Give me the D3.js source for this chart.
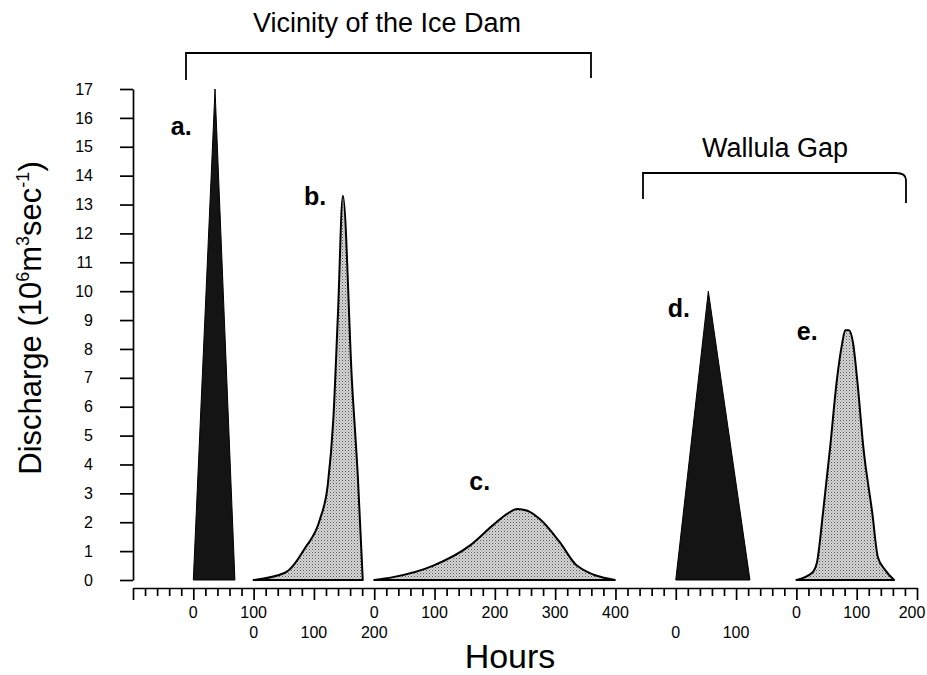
<!DOCTYPE html>
<html>
<head>
<meta charset="utf-8">
<script src="https://cdn.jsdelivr.net/npm/d3@7"></script>
<style>
  body { margin: 0; background: #fff; }
  text { font-family: "Liberation Sans", Arial, Helvetica, sans-serif; fill: #000; }
</style>
</head>
<body>
<div id="vis"></div>
<script>
// hydrographs, hours from start of each panel, discharge in 10^6 m3/s
var hoursA = [0, 36, 69];
var flowA = [0, 17, 0];

var hoursB = [0, 52, 85, 110, 123, 132, 140, 148, 163, 173, 181];
var flowB = [0, 0.25, 1.1, 2.1, 3.3, 5.5, 9.3, 13.3, 6.9, 3.5, 0];

var hoursC = [0, 31, 98, 159, 197, 221, 237, 254, 275, 308, 336, 399];
var flowC = [0, 0.1, 0.5, 1.2, 1.9, 2.3, 2.46, 2.4, 2.1, 1.3, 0.5, 0];

var hoursD = [0, 54, 123];
var flowD = [0, 10, 0];

var hoursE = [0, 26, 34, 44, 56, 67, 76, 81, 87, 94, 101, 111, 126, 135, 147, 162];
var flowE = [0, 0.25, 0.6, 2.3, 4.6, 6.9, 8.2, 8.65, 8.65, 8.2, 6.9, 4.6, 2.3, 0.8, 0.35, 0];

var panelNames = ["a.", "b.", "c.", "d.", "e."];
var panelStart = [0, 100, 300, 800, 1000];      // where each panel's hour 0 sits on the shared axis
var panelTicks = [[0, 100], [0, 100, 200], [0, 100, 200, 300, 400], [0, 100], [0, 100, 200]];
var panelRow = [0, 1, 0, 1, 0];
var panelDark = [true, false, false, true, false];
var labelHour = [-20, 102, 175, 5, 18];          // panel letter position, in panel hours
var labelFlow = [15.4, 13.0, 3.1, 9.1, 8.3];

var yTicks = d3.range(0, 18);
var groupNames = ["Vicinity of the Ice Dam", "Wallula Gap"];

var width = 927, height = 675;
var svg = d3.select("#vis").append("svg")
  .attr("width", width)
  .attr("height", height);

var defs = svg.append("defs");
var stip = defs.append("pattern")
  .attr("id", "stipple")
  .attr("width", 3).attr("height", 3)
  .attr("patternUnits", "userSpaceOnUse");
stip.append("rect").attr("width", 3).attr("height", 3).attr("fill", "#d6d6d6");
stip.append("rect").attr("width", 1).attr("height", 1).attr("fill", "#555");
stip.append("rect").attr("x", 1.5).attr("y", 1.5).attr("width", 1).attr("height", 1).attr("fill", "#888");

var x = d3.scaleLinear().domain([-100, 1200]).range([133, 917]);
var y = d3.scaleLinear().domain([0, 17]).range([580, 89]);

// y axis
var yAxis = svg.append("g")
  .attr("transform", "translate(133,0)")
  .call(d3.axisLeft(y).tickValues(yTicks).tickSize(13).tickSizeOuter(0).tickPadding(27));
yAxis.selectAll("path, line").attr("stroke", "#000").attr("stroke-width", 1.7);
yAxis.selectAll("text")
  .style("font-family", "'Liberation Sans', Arial, sans-serif")
  .style("font-size", "16px")
  .attr("fill", "#000");

// x axis: one shared ruler, panels read their own hour labels
var xAxis = svg.append("g")
  .attr("transform", "translate(0,588)")
  .call(d3.axisBottom(x).tickValues(d3.range(-100, 1201, 20)).tickSize(7).tickSizeOuter(0).tickFormat(""));
xAxis.selectAll("path, line").attr("stroke", "#000").attr("stroke-width", 1.7);
xAxis.selectAll(".tick line")
  .attr("y2", function(d) { return d % 100 === 0 ? 12 : 8; });

var xLabels = [];
panelTicks.forEach(function(ticks, i) {
  ticks.forEach(function(t) {
    xLabels.push({ pos: panelStart[i] + t, text: String(t), row: panelRow[i] });
  });
});
svg.selectAll(".xlab")
  .data(xLabels).enter()
  .append("text")
  .attr("class", "xlab")
  .attr("x", function(d) { return Math.min(x(d.pos), width - 15); })
  .attr("y", function(d) { return d.row === 0 ? 618 : 638; })
  .attr("text-anchor", "middle")
  .style("font-size", "16px")
  .text(function(d) { return d.text; });

// hydrographs
var series = [[hoursA, flowA], [hoursB, flowB], [hoursC, flowC], [hoursD, flowD], [hoursE, flowE]];
series.forEach(function(s, i) {
  var pts = s[0].map(function(h, k) { return [panelStart[i] + h, s[1][k]]; });
  var area = d3.area()
    .x(function(d) { return x(d[0]); })
    .y0(y(0))
    .y1(function(d) { return y(d[1]); })
    .curve(panelDark[i] ? d3.curveLinear : d3.curveMonotoneX);
  svg.append("path")
    .datum(pts)
    .attr("d", area)
    .attr("fill", panelDark[i] ? "#141414" : "url(#stipple)")
    .attr("stroke", "#000")
    .attr("stroke-width", panelDark[i] ? 1 : 2)
    .attr("stroke-linejoin", "round");

  svg.append("text")
    .attr("x", x(panelStart[i] + labelHour[i]))
    .attr("y", y(labelFlow[i]))
    .attr("text-anchor", "middle")
    .style("font-size", "25px")
    .style("font-weight", "bold")
    .text(panelNames[i]);
});

// group brackets
svg.append("path")
  .attr("d", "M186,80 V53 H591 V78")
  .attr("fill", "none").attr("stroke", "#000").attr("stroke-width", 1.8);
svg.append("text")
  .attr("x", 387).attr("y", 32)
  .attr("text-anchor", "middle")
  .style("font-size", "27px")
  .text(groupNames[0]);

svg.append("path")
  .attr("d", "M643,199 V173 H896 Q906,173 906,180 V203")
  .attr("fill", "none").attr("stroke", "#000").attr("stroke-width", 1.8);
svg.append("text")
  .attr("x", 775).attr("y", 157)
  .attr("text-anchor", "middle")
  .style("font-size", "27px")
  .text(groupNames[1]);

// axis titles
svg.append("text")
  .attr("x", 510).attr("y", 668)
  .attr("text-anchor", "middle")
  .style("font-size", "34px")
  .text("Hours");

var yt = svg.append("text")
  .attr("transform", "translate(41,318) rotate(-90)")
  .attr("text-anchor", "middle")
  .style("font-size", "31px");
yt.append("tspan").text("Discharge (10");
yt.append("tspan").attr("dy", -12).style("font-size", "18px").text("6");
yt.append("tspan").attr("dy", 12).text("m");
yt.append("tspan").attr("dy", -12).style("font-size", "18px").text("3");
yt.append("tspan").attr("dy", 12).text("sec");
yt.append("tspan").attr("dy", -12).style("font-size", "18px").text("-1");
yt.append("tspan").attr("dy", 12).text(")");
</script>
</body>
</html>
